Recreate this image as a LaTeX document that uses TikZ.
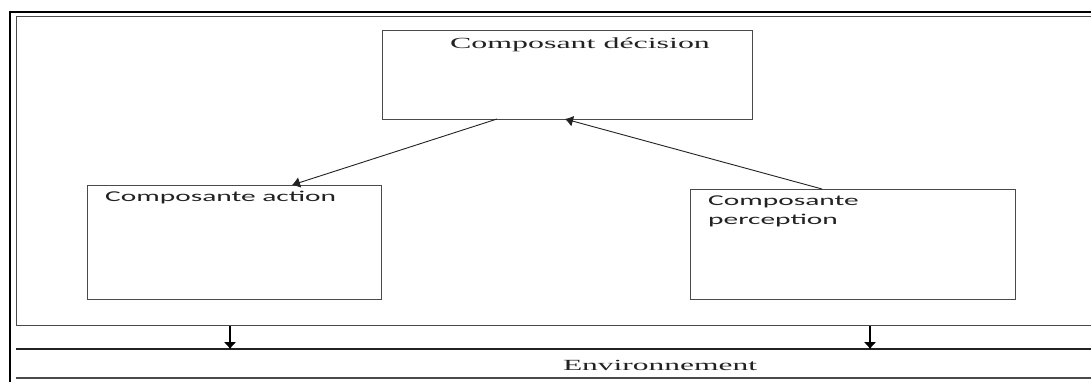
\documentclass[tikz,border=0pt]{standalone}
\usepackage{fontspec}
\usepackage{graphicx}
\setmainfont{Liberation Serif}
\newfontfamily\calib{Carlito}
\usetikzlibrary{arrows.meta}
\definecolor{ink}{HTML}{222222}
\definecolor{boxline}{HTML}{4A4A4A}
\tikzset{
  x=1pt, y=-1pt,
  box/.style={draw=boxline, line width=1.4pt, inner sep=0pt, anchor=north west},
  serif/.style={text=ink, inner sep=0pt, font=\fontsize{15.5}{18}\selectfont},
  sans/.style={text=ink, inner sep=0pt, font=\calib\fontsize{15}{16}\selectfont},
  link/.style={draw=ink, line width=0.9pt, -{Latex[length=8pt,width=11pt]}},
  down/.style={draw=black, line width=1.3pt, -{Latex[length=7pt,width=13pt]}}
}
\begin{document}
\begin{tikzpicture}
\clip (0,0) rectangle (1091,381);
\fill[white] (0,0) rectangle (1091,381);
% outer frame
\draw[line width=2.2pt, black] (10,390) -- (10,12) -- (1100,12);
% agent box
\node[box, minimum width=1075pt, minimum height=309.5pt] (agent) at (15.5,15.5) {};
% decision
\node[box, minimum width=370pt, minimum height=89pt] (dec) at (382,30) {};
\node[serif, anchor=base] (dect) at (580,48.3) {\scalebox{2.06}[1]{Composant décision}};
% action
\node[box, minimum width=294pt, minimum height=114pt] (act) at (87,185) {};
\node[sans, anchor=base west] (actt) at (105,201) {\scalebox{1.96}[1]{Composante action}};
% perception
\node[box, minimum width=325pt, minimum height=110pt] (per) at (690,189) {};
\node[sans, anchor=base west] (pert) at (708,205) {\scalebox{1.96}[1]{\begin{tabular}[t]{@{}l@{}}Composante\\[3pt]perception\end{tabular}}};
% environment band
\draw[draw=ink, line width=1.1pt] (16,349) -- (1100,349);
\draw[draw=boxline, line width=1.2pt] (16,378) -- (1100,378);
\node[serif, anchor=base] (env) at (660,370.7) {\scalebox{2.03}[1]{Environnement}};
\coordinate (e1) at (230,349);
\coordinate (e2) at (870,349);
% connectors
\coordinate (decA) at (497,119);
\coordinate (decB) at (565,119);
\coordinate (actA) at (292,185);
\coordinate (perA) at (822,189);
\draw[link] (decA) -- (actA);
\draw[link] (perA) -- (decB);
\draw[down] (agent.south -| e1) -- (e1);
\draw[down] (agent.south -| e2) -- (e2);
\end{tikzpicture}
\end{document}
